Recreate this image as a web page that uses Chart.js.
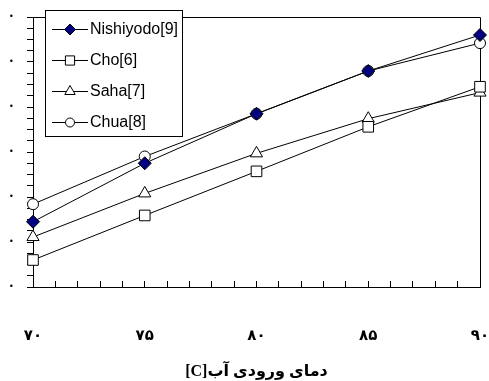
<!DOCTYPE html>
<html>
<head>
<meta charset="utf-8">
<script src="https://cdn.jsdelivr.net/npm/chart.js@4"></script>
<style>
html, body { margin: 0; padding: 0; background: #fff; }
</style>
</head>
<body>
<canvas id="chart" width="489" height="381"></canvas>
<script>
const temps = [70, 75, 80, 85, 90];
const nishiyodo = [1.45, 2.75, 3.85, 4.80, 5.60];
const cho = [0.60, 1.59, 2.57, 3.56, 4.45];
const saha = [1.11, 2.08, 2.97, 3.74, 4.32];
const chua = [1.84, 2.90, 3.85, 4.80, 5.42];
const xTickLabels = { 70: '۷۰', 75: '۷۵', 80: '۸۰', 85: '۸۵', 90: '۹۰' };
const yTickLabel = '•';
const xTitle = 'دمای ورودی آب[C]';

function pts(vals) {
    return temps.map((t, i) => ({ x: t, y: vals[i] }));
}

function series(label, vals, style, radius, fill) {
    return {
        label: label,
        data: pts(vals),
        borderColor: '#000',
        borderWidth: 1,
        pointStyle: style,
        pointRadius: radius,
        pointBackgroundColor: fill,
        pointBorderColor: '#000',
        pointBorderWidth: 1,
        clip: false,
        tension: 0
    };
}

// marker drawing for the legend
function marker(ctx, style, x, y, r, fill) {
    ctx.beginPath();
    if (style === 'rectRot') {
        ctx.moveTo(x, y - r); ctx.lineTo(x + r, y); ctx.lineTo(x, y + r); ctx.lineTo(x - r, y);
        ctx.closePath();
    } else if (style === 'rect') {
        const s = r * Math.SQRT1_2;
        ctx.rect(x - s, y - s, 2 * s, 2 * s);
    } else if (style === 'triangle') {
        const w = r * Math.sqrt(3) / 2;
        ctx.moveTo(x, y - r); ctx.lineTo(x + w, y + r / 2); ctx.lineTo(x - w, y + r / 2);
        ctx.closePath();
    } else {
        ctx.arc(x, y, r, 0, Math.PI * 2);
    }
    ctx.fillStyle = fill;
    ctx.fill();
    ctx.stroke();
}

const boxPlugin = {
    id: 'boxPlugin',
    beforeDatasetsDraw(chart) {
        const a = chart.chartArea, ctx = chart.ctx;
        ctx.save();
        ctx.strokeStyle = '#000';
        ctx.lineWidth = 1;
        ctx.beginPath();
        ctx.moveTo(Math.round(a.left) + 0.5, Math.round(a.top) + 0.5);
        ctx.lineTo(Math.round(a.right) + 0.5, Math.round(a.top) + 0.5);
        ctx.lineTo(Math.round(a.right) + 0.5, Math.round(a.bottom) + 0.5);
        ctx.stroke();
        ctx.restore();
    }
};

const legendPlugin = {
    id: 'legendPlugin',
    afterDraw(chart) {
        const ctx = chart.ctx;
        ctx.save();
        ctx.direction = 'ltr';
        ctx.fillStyle = '#fff';
        ctx.fillRect(45.5, 10.5, 137, 126);
        ctx.strokeStyle = '#000';
        ctx.lineWidth = 1;
        ctx.strokeRect(45.5, 10.5, 137, 126);
        chart.data.datasets.forEach((ds, i) => {
            const y = 29 + i * 31;
            ctx.beginPath();
            ctx.moveTo(52, y + 0.5);
            ctx.lineTo(88, y + 0.5);
            ctx.stroke();
            marker(ctx, ds.pointStyle, 70, y + 0.5, ds.pointRadius - 1, ds.pointBackgroundColor);
            ctx.fillStyle = '#000';
            ctx.font = '16px "Liberation Sans", Arial, sans-serif';
            ctx.textAlign = 'left';
            ctx.textBaseline = 'middle';
            ctx.fillText(ds.label, 90, y + 1);
        });
        ctx.restore();
    }
};

const ctx = document.getElementById('chart').getContext('2d');
new Chart(ctx, {
    type: 'line',
    data: {
        datasets: [
            series('Nishiyodo[9]', nishiyodo, 'rectRot', 6.5, '#000080'),
            series('Cho[6]', cho, 'rect', 7.5, '#fff'),
            series('Saha[7]', saha, 'triangle', 7, '#fff'),
            series('Chua[8]', chua, 'circle', 5.5, '#fff')
        ]
    },
    options: {
        responsive: false,
        animation: false,
        devicePixelRatio: 1,
        layout: { padding: { top: 17, right: 9, left: 0, bottom: 0 } },
        plugins: {
            legend: { display: false },
            tooltip: { enabled: false }
        },
        scales: {
            x: {
                type: 'linear',
                min: 70,
                max: 90,
                ticks: {
                    stepSize: 1,
                    autoSkip: false,
                    maxRotation: 0,
                    padding: 46,
                    color: '#000',
                    font: { family: '"DejaVu Sans", sans-serif', size: 15, weight: 'bold' },
                    callback: v => xTickLabels[v] || ''
                },
                grid: { drawOnChartArea: false, tickLength: -6, color: '#000', tickColor: '#000' },
                border: { color: '#000', width: 1 },
                title: {
                    display: true,
                    text: '\u202B' + xTitle + '\u202C',
                    color: '#000',
                    font: { family: '"Liberation Serif", "DejaVu Sans", serif', size: 16, weight: 'bold' },
                    padding: { top: 0, bottom: 0 }
                },
                afterFit(s) {
                    s.height = 94;
                    s.paddingLeft = 0;
                    s.paddingRight = 0;
                }
            },
            y: {
                min: 0,
                max: 6,
                ticks: {
                    stepSize: 0.25,
                    autoSkip: false,
                    padding: 14,
                    color: '#000',
                    font: { size: 9 },
                    callback: v => Number.isInteger(v) ? yTickLabel : ''
                },
                grid: { drawOnChartArea: false, tickLength: 6, color: '#000', tickColor: '#000' },
                border: { color: '#000', width: 1 },
                afterFit(s) {
                    s.width = 33;
                    s.paddingTop = 0;
                    s.paddingBottom = 0;
                }
            }
        }
    },
    plugins: [boxPlugin, legendPlugin]
});
</script>
</body>
</html>
